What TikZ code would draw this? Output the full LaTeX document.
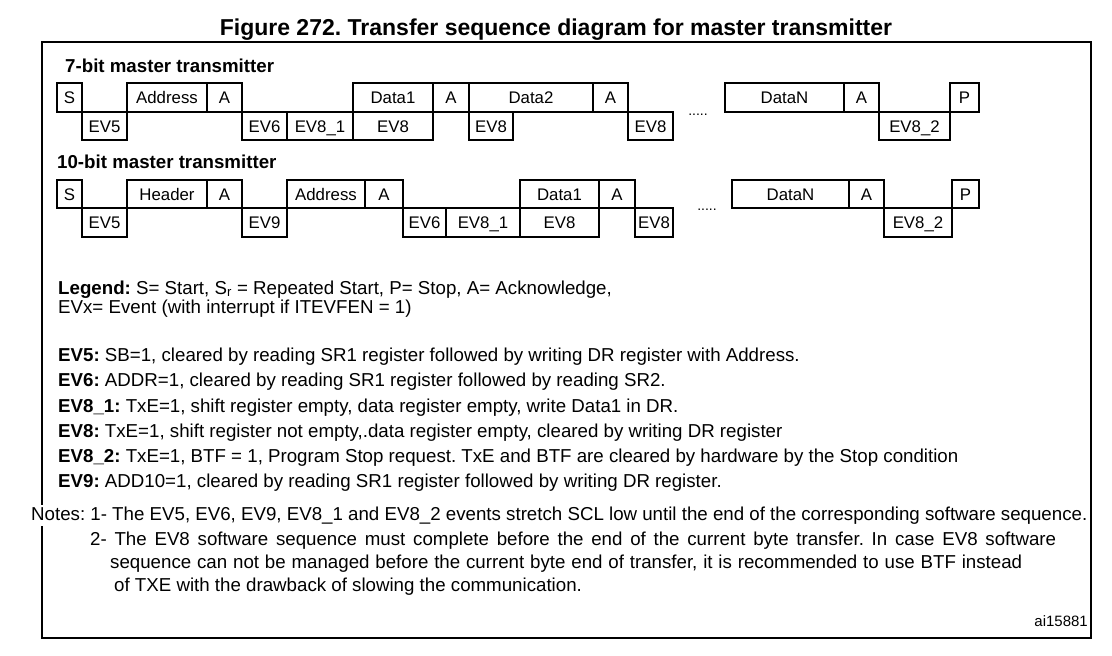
\documentclass[tikz,border=0pt]{standalone}
\usepackage{fontspec}
\setmainfont{Liberation Sans}
\frenchspacing
\begin{document}
\begin{tikzpicture}[x=1pt,y=-1pt,
  box/.style={draw, line width=1.4pt, inner sep=0pt, outer sep=0pt,
    font=\fontsize{16.8}{18}\selectfont, text height=12pt, text depth=0pt},
  body/.style={anchor=base west, inner sep=0pt, font=\fontsize{18.7}{20}\selectfont},
  note/.style={body, fill=white, inner ysep=2pt},
  dots/.style={anchor=base, inner sep=0pt, font=\fontsize{14}{16}\selectfont}]
\useasboundingbox (0,0) rectangle (1112,656);
\fill[white] (0,0) rectangle (1112,656);
\newcommand\bx[6]{\node[box, minimum width={(#3-#2)*1pt}, minimum height={(#5-#4)*1pt}] (#1) at ({(#2+#3)/2},{(#4+#5)/2}) {#6};}
% title and frame
\node[anchor=base, inner sep=0pt, font=\fontsize{23}{26}\selectfont\bfseries] (title) at (556,35) {Figure 272. Transfer sequence diagram for master transmitter};
\node[draw, line width=2pt, inner sep=0pt, outer sep=0pt, minimum width=1049pt, minimum height=596pt] (frame) at (566.5,340) {};
% 7-bit
\node[body] (h7) at (65,72) {\bfseries 7-bit master transmitter};
\bx{a1}{57}{82}{83}{112}{S}
\bx{a2}{127}{207}{83}{112}{Address}
\bx{a3}{207}{242}{83}{112}{A}
\bx{a4}{353}{433}{83}{112}{Data1}
\bx{a5}{433}{469}{83}{112}{A}
\bx{a6}{469}{593}{83}{112}{Data2}
\bx{a7}{593}{628}{83}{112}{A}
\bx{a8}{725}{844}{83}{112}{DataN}
\bx{a9}{844}{879}{83}{112}{A}
\bx{a10}{950}{979}{83}{112}{P}
\bx{b1}{82}{127}{112}{140}{EV5}
\bx{b2}{242}{287}{112}{140}{EV6}
\bx{b3}{287}{353}{112}{140}{EV8\_1}
\bx{b4}{353}{433}{112}{140}{EV8}
\bx{b5}{469}{513}{112}{140}{EV8}
\bx{b6}{628}{673}{112}{140}{EV8}
\bx{b7}{879}{950}{112}{140}{EV8\_2}
\node[dots] (d7) at (698,115) {.....};
% 10-bit
\node[body] (h10) at (57,168) {\bfseries 10-bit master transmitter};
\bx{c1}{57}{82}{180}{208}{S}
\bx{c2}{127}{207}{180}{208}{Header}
\bx{c3}{207}{242}{180}{208}{A}
\bx{c4}{287}{365}{180}{208}{Address}
\bx{c5}{365}{403}{180}{208}{A}
\bx{c6}{520}{599}{180}{208}{Data1}
\bx{c7}{599}{635}{180}{208}{A}
\bx{c8}{732}{849}{180}{208}{DataN}
\bx{c9}{849}{884}{180}{208}{A}
\bx{c10}{952}{979}{180}{208}{P}
\bx{e1}{82}{127}{208}{237}{EV5}
\bx{e2}{242}{287}{208}{237}{EV9}
\bx{e3}{403}{446}{208}{237}{EV6}
\bx{e4}{446}{520}{208}{237}{EV8\_1}
\bx{e5}{520}{599}{208}{237}{EV8}
\bx{e6}{635}{673}{208}{237}{EV8}
\bx{e7}{884}{952}{208}{237}{EV8\_2}
\node[dots] (d10) at (707,210) {.....};
% legend
\node[body] (l1) at (58,294) {\bfseries Legend:\mdseries{} S= Start, S\textsubscript{r} = Repeated Start, P= Stop, A= Acknowledge,};
\node[body] (l2) at (58,313) {EVx= Event (with interrupt if ITEVFEN = 1)};
% events
\node[body] (t1) at (58,361.6) {\textbf{EV5:} SB=1, cleared by reading SR1 register followed by writing DR register with Address.};
\node[body] (t2) at (58,386.8) {\textbf{EV6:} ADDR=1, cleared by reading SR1 register followed by reading SR2.};
\node[body] (t3) at (58,412) {\textbf{EV8\_1:} TxE=1, shift register empty, data register empty, write Data1 in DR.};
\node[body] (t4) at (58,437.2) {\textbf{EV8:} TxE=1, shift register not empty,.data register empty, cleared by writing DR register};
\node[body] (t5) at (58,462.4) {\textbf{EV8\_2:} TxE=1, BTF = 1, Program Stop request. TxE and BTF are cleared by hardware by the Stop condition};
\node[body] (t6) at (58,487.6) {\textbf{EV9:} ADD10=1, cleared by reading SR1 register followed by writing DR register.};
% notes
\node[note] (n1) at (31,520.6) {Notes: 1- The EV5, EV6, EV9, EV8\_1 and EV8\_2 events stretch SCL low until the end of the corresponding software sequence.};
\node[body] (n2) at (90,545.6) {\makebox[966pt][s]{2- The EV8 software sequence must complete before the end of the current byte transfer. In case EV8 software}};
\node[body] (n3) at (110,568.6) {\makebox[912pt][s]{sequence can not be managed before the current byte end of transfer, it is recommended to use BTF instead}};
\node[body] (n4) at (114,591.6) {of TXE with the drawback of slowing the communication.};
\node[anchor=base east, inner sep=0pt, font=\fontsize{15}{17}\selectfont] (ref) at (1088,626) {ai15881};
\end{tikzpicture}
\end{document}
